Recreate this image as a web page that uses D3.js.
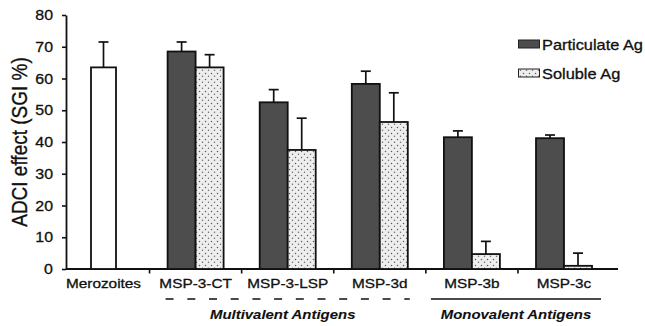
<!DOCTYPE html>
<html>
<head>
  <meta charset="utf-8">
  <script src="https://d3js.org/d3.v7.min.js"></script>
  <style>
    body { margin: 0; background: #fff; }
    svg { display: block; }
    text { font-family: "Liberation Sans", Arial, sans-serif; fill: #111; stroke: #111; stroke-width: 0.3px; }
  </style>
</head>
<body>
<script>
  // chart data
  var categories = ["Merozoites", "MSP-3-CT", "MSP-3-LSP", "MSP-3d", "MSP-3b", "MSP-3c"];
  var merozoiteMean = 63.5, merozoiteErr = 8;
  var particulateMean = [null, 68.5, 52.5, 58.3, 41.5, 41.2];
  var particulateErr  = [null, 3, 4, 4, 2, 1];
  var solubleMean = [null, 63.5, 37.5, 46.3, 4.7, 1.0];
  var solubleErr  = [null, 4, 10, 9.2, 4, 4];
  var yTicks = [0, 10, 20, 30, 40, 50, 60, 70, 80];
  var multivalent = ["MSP-3-CT", "MSP-3-LSP", "MSP-3d"];
  var monovalent = ["MSP-3b", "MSP-3c"];

  var W = 645, H = 326;
  var svg = d3.select("body").append("svg").attr("width", W).attr("height", H);

  var y = d3.scaleLinear().domain([0, 80]).range([269, 15]);
  var x = d3.scalePoint().domain(categories).range([103.5, 564]);
  var sub = d3.scaleBand().domain(["particulate", "soluble"]).range([-28, 28]);

  // dotted fill for soluble antigen
  var pat = svg.append("defs").append("pattern")
    .attr("id", "dots").attr("patternUnits", "userSpaceOnUse")
    .attr("width", 6).attr("height", 6);
  pat.append("rect").attr("width", 6).attr("height", 6).attr("fill", "#eeeeee");
  pat.append("circle").attr("cx", 1.5).attr("cy", 1.5).attr("r", 0.75).attr("fill", "#5a5a5a");
  pat.append("circle").attr("cx", 4.5).attr("cy", 4.2).attr("r", 0.75).attr("fill", "#6a6a6a");

  // text helper: glyphs in the figure are stretched horizontally
  function label(px, py, str, size, sx, anchor, extra) {
    var t = svg.append("text")
      .attr("transform", "translate(" + px + "," + py + ") scale(" + sx + ",1)")
      .attr("text-anchor", anchor)
      .style("font-size", size + "px")
      .text(str);
    if (extra) extra(t);
    return t;
  }

  // y axis
  var yAxis = svg.append("g").attr("transform", "translate(66,0)")
    .call(d3.axisLeft(y).tickValues(yTicks).tickSize(4).tickSizeOuter(0));
  yAxis.select(".domain").attr("stroke", "#111").attr("stroke-width", 1.8);
  yAxis.selectAll(".tick line").attr("stroke", "#111").attr("stroke-width", 1.6);
  yAxis.selectAll(".tick text").remove();
  yTicks.forEach(function (v) {
    label(53, y(v) + 5, v, 14.5, 1.1, "end");
  });

  label(26, 142, "ADCI effect (SGI %)", 19, 1, "middle", function (t) {
    t.attr("transform", "translate(27,142) scale(1.15,1) rotate(-90)");
  });

  // x axis line with category dividers
  svg.append("line").attr("x1", 66).attr("x2", 618).attr("y1", 269).attr("y2", 269)
    .attr("stroke", "#111").attr("stroke-width", 2);
  var step = x.step();
  svg.selectAll(".divider").data(categories.slice(1)).enter().append("line")
    .attr("x1", function (d) { return x(d) - step / 2; })
    .attr("x2", function (d) { return x(d) - step / 2; })
    .attr("y1", 269).attr("y2", 273.5)
    .attr("stroke", "#111").attr("stroke-width", 1.6);

  categories.forEach(function (c) {
    label(x(c), 288, c, 12.8, 1.2, "middle");
  });

  // error bars
  function errBar(cx, mean, err) {
    var g = svg.append("g").attr("stroke", "#111").attr("stroke-width", 1.7);
    g.append("line").attr("x1", cx).attr("x2", cx).attr("y1", y(mean)).attr("y2", y(mean + err));
    g.append("line").attr("x1", cx - 5).attr("x2", cx + 5).attr("y1", y(mean + err)).attr("y2", y(mean + err));
  }

  // merozoites bar
  errBar(x("Merozoites"), merozoiteMean, merozoiteErr);
  svg.append("rect")
    .attr("x", x("Merozoites") - 12.5).attr("width", 25)
    .attr("y", y(merozoiteMean)).attr("height", y(0) - y(merozoiteMean))
    .attr("fill", "#fff").attr("stroke", "#111").attr("stroke-width", 1.8);

  // grouped bars
  var groups = categories.map(function (c, i) {
    return [
      { cat: c, key: "particulate", v: particulateMean[i], e: particulateErr[i] },
      { cat: c, key: "soluble", v: solubleMean[i], e: solubleErr[i] }
    ];
  }).filter(function (g) { return g[0].v !== null; });
  var bars = [].concat.apply([], groups);

  bars.forEach(function (d) {
    errBar(x(d.cat) + sub(d.key) + sub.bandwidth() / 2, d.v, d.e);
  });

  svg.selectAll(".bar").data(bars).enter().append("rect")
    .attr("x", function (d) { return x(d.cat) + sub(d.key); })
    .attr("width", sub.bandwidth())
    .attr("y", function (d) { return y(d.v); })
    .attr("height", function (d) { return y(0) - y(d.v); })
    .attr("fill", function (d) { return d.key === "particulate" ? "#4d4d4d" : "url(#dots)"; })
    .attr("stroke", "#111").attr("stroke-width", 1.8);

  // group annotations
  var mvL = x(multivalent[0]) - 30, mvR = x(multivalent[multivalent.length - 1]) + 30;
  svg.append("line").attr("x1", mvL).attr("x2", mvR).attr("y1", 299).attr("y2", 299)
    .attr("stroke", "#111").attr("stroke-width", 1.6).attr("stroke-dasharray", "8,13.7");
  label((mvL + mvR) / 2 - 5, 319, "Multivalent Antigens", 13, 1.15, "middle", function (t) {
    t.style("font-style", "italic").style("font-weight", "bold").style("stroke-width", "0.1px");
  });

  var moL = x(monovalent[0]) - 41, moR = x(monovalent[1]) + 37;
  svg.append("line").attr("x1", moL).attr("x2", moR).attr("y1", 299).attr("y2", 299)
    .attr("stroke", "#111").attr("stroke-width", 1.6);
  label((moL + moR) / 2, 319, "Monovalent Antigens", 13, 1.15, "middle", function (t) {
    t.style("font-style", "italic").style("font-weight", "bold").style("stroke-width", "0.1px");
  });

  // legend
  var legend = [
    { name: "Particulate Ag", fill: "#4d4d4d", y: 40 },
    { name: "Soluble Ag", fill: "url(#dots)", y: 69 }
  ];
  legend.forEach(function (d) {
    svg.append("rect").attr("x", 518.5).attr("y", d.y).attr("width", 21).attr("height", 8)
      .attr("fill", d.fill).attr("stroke", "#222").attr("stroke-width", 1);
    label(542, d.y + 9.5, d.name, 14, 1.17, "start");
  });
</script>
</body>
</html>
